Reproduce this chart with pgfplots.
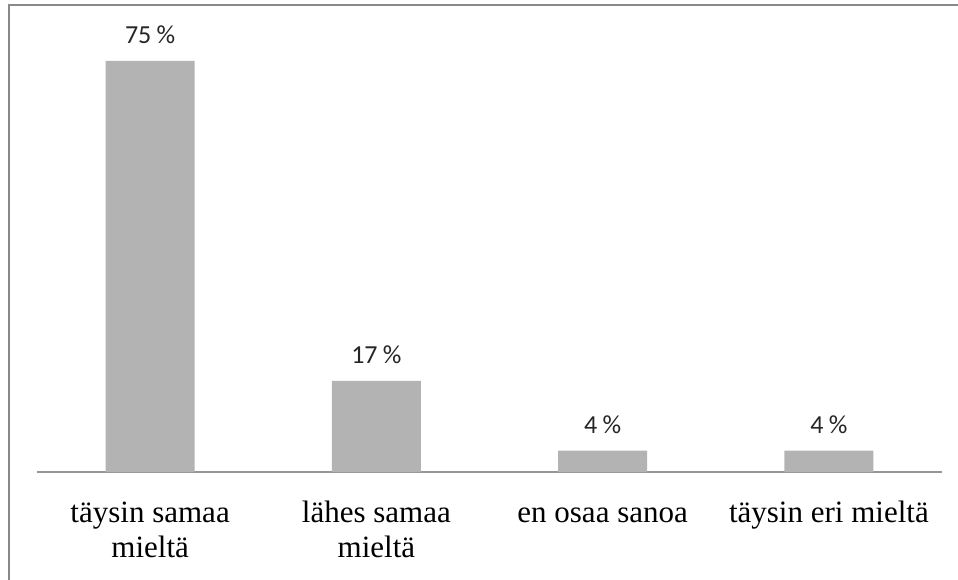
\documentclass[border=0pt]{standalone}
\usepackage{pgfplots}
\pgfplotsset{compat=1.18}
\usepackage{fontspec}
\setmainfont{Liberation Serif}
\newfontfamily\tickfont{Liberation Serif}
\newfontfamily\labelfont{Carlito}
\definecolor{barc}{RGB}{179,179,179}
\definecolor{framec}{RGB}{137,137,137}
\definecolor{axisc}{RGB}{150,150,150}
\begin{document}
\begin{tikzpicture}
\path[use as bounding box] (0pt,0pt) rectangle (958pt,-579pt);
\draw[line width=2pt, framec] (8.5pt,-590pt) -- (8.5pt,-4.5pt) -- (970pt,-4.5pt);
\begin{axis}[
  at={(37pt,-472pt)}, anchor=south west,
  scale only axis, width=905pt, height=452pt,
  xmin=-0.5, xmax=3.5, ymin=0, ymax=82.9,
  axis x line*=bottom, axis y line=none,
  x axis line style={axisc, line width=1.5pt, -},
  xtick=data, major tick length=0pt,
  xticklabels={{\strut täysin samaa\\mieltä},{\strut lähes samaa\\mieltä},{\strut en osaa sanoa},{\strut täysin eri mieltä}},
  xticklabel style={align=center, anchor=north, font=\tickfont\fontsize{31}{35}\selectfont, inner sep=0pt, yshift=-26pt},
  /pgf/number format/assume math mode=true,
  ybar, bar width=89pt,
  nodes near coords={\pgfmathprintnumber[fixed,precision=0,assume math mode=true]{\pgfplotspointmeta}\hspace{0.2em}\%},
  every node near coord/.append style={font=\labelfont\fontsize{26}{30}\selectfont, inner sep=0pt, yshift=17pt, color=black!85},
]
\addplot[fill=barc, draw=none] coordinates {(0,75.4) (1,16.7) (2,3.9) (3,3.9)};
\end{axis}
\end{tikzpicture}
\end{document}
